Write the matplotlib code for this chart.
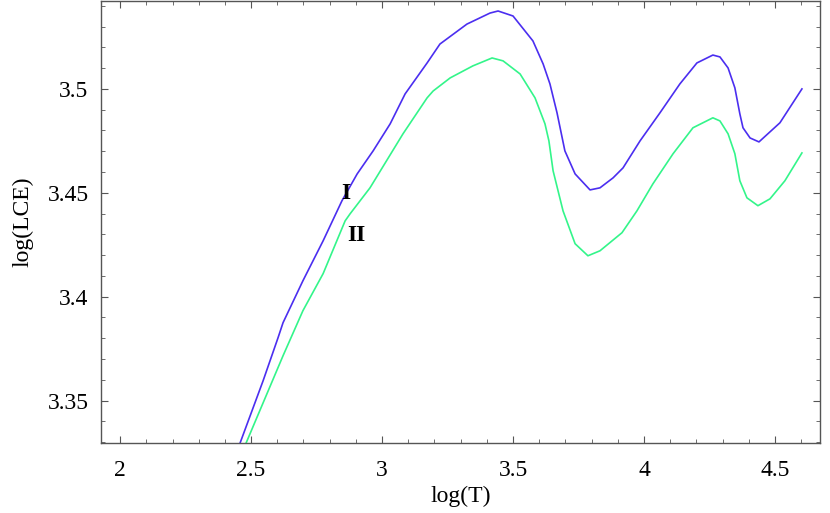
import numpy as np
import matplotlib.pyplot as plt
from matplotlib.ticker import MultipleLocator

# Curve I (upper, blue)
logT_I = [2.458, 2.546, 2.603, 2.622, 2.698, 2.775, 2.847, 2.905, 2.966, 3.031,
          3.088, 3.172, 3.221, 3.324, 3.412, 3.443, 3.500, 3.576, 3.615, 3.641,
          3.668, 3.698, 3.737, 3.794, 3.832, 3.882, 3.920, 3.985, 4.061, 4.137,
          4.202, 4.263, 4.290, 4.321, 4.347, 4.366, 4.378, 4.405, 4.439, 4.519,
          4.603]
logLCE_I = [3.3296, 3.3596, 3.3803, 3.3875, 3.4077, 3.4269, 3.4462, 3.4591, 3.4702, 3.4832,
            3.4976, 3.5125, 3.5216, 3.5312, 3.5365, 3.5375, 3.5351, 3.5231, 3.5120, 3.5024,
            3.4885, 3.4702, 3.4591, 3.4514, 3.4524, 3.4572, 3.4620, 3.4750, 3.4885, 3.5024,
            3.5125, 3.5163, 3.5154, 3.5101, 3.5005, 3.4880, 3.4813, 3.4764, 3.4745, 3.4837,
            3.5000]

# Curve II (lower, green)
logT_II = [2.481, 2.622, 2.698, 2.775, 2.859, 2.878, 2.954,
           3.080, 3.172, 3.195, 3.260, 3.347, 3.420, 3.462, 3.527, 3.584, 3.622,
           3.637, 3.653, 3.691, 3.737, 3.786, 3.832, 3.916, 3.973, 4.034, 4.111,
           4.187, 4.263, 4.290, 4.321, 4.347, 4.366, 4.393, 4.435, 4.481, 4.538,
           4.603]
logLCE_II = [3.3296, 3.3716, 3.3933, 3.4111, 3.4365, 3.4399, 3.4524,
             3.4784, 3.4957, 3.4990, 3.5053, 3.5111, 3.5149, 3.5135, 3.5072, 3.4957, 3.4832,
             3.4750, 3.4606, 3.4413, 3.4255, 3.4197, 3.4221, 3.4308, 3.4413, 3.4543, 3.4688,
             3.4813, 3.4861, 3.4846, 3.4784, 3.4688, 3.4558, 3.4476, 3.4438, 3.4471, 3.4558,
             3.4692]

plt.rcParams['font.family'] = 'serif'
plt.rcParams['font.serif'] = ['Liberation Serif', 'Times New Roman', 'DejaVu Serif']
plt.rcParams['font.size'] = 17

fig = plt.figure(figsize=(8.3, 5.13), dpi=100)
ax = fig.add_axes([101/830, 70/513, 719/830, 443/513 - 0.002])

ax.plot(logT_I, logLCE_I, color='#4b2ef0', lw=1.2)
ax.plot(logT_II, logLCE_II, color='#33f58a', lw=1.2)

ax.text(2.863, 3.4495, 'I', fontsize=17, fontweight='bold', ha='center', va='center')
ax.text(2.901, 3.4293, 'II', fontsize=17, fontweight='bold', ha='center', va='center')

ax.set_xlim(1.927, 4.672)
ax.set_ylim(3.3296, 3.5423)
ax.xaxis.set_major_locator(MultipleLocator(0.5))
ax.xaxis.set_minor_locator(MultipleLocator(0.1))
ax.yaxis.set_major_locator(MultipleLocator(0.05))
ax.yaxis.set_minor_locator(MultipleLocator(0.01))
ax.xaxis.set_major_formatter(plt.FuncFormatter(lambda v, p: f'{v:g}'))
ax.yaxis.set_major_formatter(plt.FuncFormatter(lambda v, p: f'{v:g}'))

ax.tick_params(which='both', direction='in', top=True, right=True, color='#555555')
ax.tick_params(which='major', length=5, width=0.8)
ax.tick_params(which='minor', length=3, width=0.6)
ax.tick_params(axis='x', which='major', pad=12)
ax.tick_params(axis='y', which='major', pad=9)
for s in ax.spines.values():
    s.set_color('#555555')
    s.set_linewidth(1.0)

ax.set_xlabel('log(T)', labelpad=4)
ax.set_ylabel('log(LCE)', labelpad=10)

fig.savefig('out.png', dpi=100)
